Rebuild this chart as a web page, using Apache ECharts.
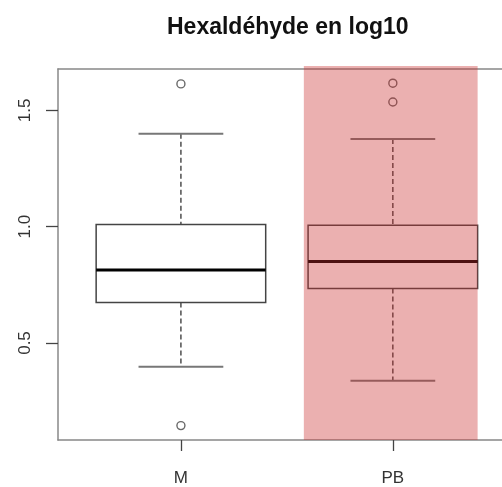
<!DOCTYPE html>
<html>
<head>
<meta charset="utf-8">
<script src="https://cdn.jsdelivr.net/npm/echarts@6/dist/echarts.min.js"></script>
<style>
  html, body { margin: 0; padding: 0; background: #fff; }
  #main { width: 502px; height: 487px; }
</style>
</head>
<body>
<div id="main"></div>
<script>
  // groups and their positions on the x axis
  var categories = ['M', 'PB'];
  var positions = [1, 2];
  // [lower whisker, Q1, median, Q3, upper whisker]
  var boxStats = [
    [0.398, 0.674, 0.814, 1.010, 1.400],
    [0.338, 0.734, 0.850, 1.006, 1.377]
  ];
  // outliers as [position, value]
  var outliers = [
    [1, 1.614], [1, 0.145],
    [2, 1.617], [2, 1.536]
  ];
  var yTicks = [0.5, 1.0, 1.5];
  // shaded band over PB: [x from, x to]
  var highlight = [[1.58, 2.40]];

  var dom = document.getElementById('main');
  var myChart = echarts.init(dom, null, { renderer: 'canvas' });

  var yMin = 0.083, yMax = 1.678;
  var xMin = 0.42, xMax = 2.515; // plot frame runs past the right edge

  var boxData = [];
  for (var i = 0; i < boxStats.length; i++) {
    boxData.push([positions[i]].concat(boxStats[i]));
  }

  function renderBox(params, api) {
    var x = api.value(0);
    var lw = api.value(1), q1 = api.value(2), med = api.value(3), q3 = api.value(4), uw = api.value(5);
    var tl = api.coord([x - 0.4, q3]);
    var br = api.coord([x + 0.4, q1]);
    var m1 = api.coord([x - 0.4, med]), m2 = api.coord([x + 0.4, med]);
    var top = api.coord([x, uw]), bot = api.coord([x, lw]);
    var capL = api.coord([x - 0.2, uw]), capR = api.coord([x + 0.2, uw]);
    var capL2 = api.coord([x - 0.2, lw]), capR2 = api.coord([x + 0.2, lw]);
    var dash = { stroke: '#333', lineWidth: 1.3, lineDash: [5, 3] };
    return {
      type: 'group',
      children: [
        { type: 'line', shape: { x1: top[0], y1: top[1], x2: top[0], y2: tl[1] }, style: dash },
        { type: 'line', shape: { x1: bot[0], y1: br[1], x2: bot[0], y2: bot[1] }, style: dash },
        { type: 'line', shape: { x1: capL[0], y1: capL[1], x2: capR[0], y2: capR[1] }, style: { stroke: '#777', lineWidth: 2 } },
        { type: 'line', shape: { x1: capL2[0], y1: capL2[1], x2: capR2[0], y2: capR2[1] }, style: { stroke: '#777', lineWidth: 2 } },
        {
          type: 'rect',
          shape: { x: tl[0], y: tl[1], width: br[0] - tl[0], height: br[1] - tl[1] },
          style: { fill: '#fff', stroke: '#444', lineWidth: 1.5 }
        },
        { type: 'line', shape: { x1: m1[0], y1: m1[1], x2: m2[0], y2: m2[1] }, style: { stroke: '#000', lineWidth: 3 } }
      ]
    };
  }

  function renderBand(params, api) {
    var a = api.coord([api.value(0), yMax]);
    var b = api.coord([api.value(1), yMin]);
    return {
      type: 'rect',
      shape: { x: a[0], y: a[1] - 3, width: b[0] - a[0], height: b[1] - a[1] + 3 },
      style: { fill: 'rgba(202,47,47,0.38)' }
    };
  }

  var frameLine = { show: true, lineStyle: { color: '#888', width: 1.5 } };

  var option = {
    animation: false,
    title: {
      text: 'Hexaldéhyde en log10',
      left: 162,
      top: 11,
      textStyle: {
        fontFamily: 'Liberation Sans',
        fontSize: 23,
        fontWeight: 'bold',
        color: '#111'
      }
    },
    grid: {
      left: 58,
      right: 0,
      top: 69,
      bottom: 45
    },
    xAxis: [
      {
        type: 'value',
        min: xMin,
        max: xMax,
        axisLine: frameLine,
        splitLine: { show: false },
        axisTick: { show: true, length: 11, customValues: positions, lineStyle: { color: '#444', width: 1.3 } },
        axisLabel: {
          customValues: positions,
          margin: 30,
          fontFamily: 'Liberation Sans',
          fontSize: 17,
          color: '#333',
          formatter: function (v) {
            return categories[positions.indexOf(v)];
          }
        }
      },
      {
        type: 'value',
        position: 'top',
        min: xMin,
        max: xMax,
        axisLine: frameLine,
        splitLine: { show: false },
        axisTick: { show: false },
        axisLabel: { show: false }
      }
    ],
    yAxis: {
      type: 'value',
      min: yMin,
      max: yMax,
      axisLine: frameLine,
      splitLine: { show: false },
      axisTick: { show: true, length: 12, customValues: yTicks, lineStyle: { color: '#444', width: 1.3 } },
      axisLabel: {
        customValues: yTicks,
        rotate: 90,
        align: 'center',
        verticalAlign: 'middle',
        margin: 33,
        fontFamily: 'Liberation Sans',
        fontSize: 17,
        color: '#333',
        formatter: function (v) {
          return v.toFixed(1);
        }
      }
    },
    series: [
      {
        type: 'custom',
        renderItem: renderBox,
        data: boxData,
        z: 2
      },
      {
        type: 'scatter',
        data: outliers,
        symbol: 'circle',
        symbolSize: 8,
        itemStyle: { color: 'rgba(0,0,0,0)', borderColor: '#444', borderWidth: 1.4 },
        z: 3
      },
      {
        type: 'custom',
        renderItem: renderBand,
        data: highlight,
        clip: false,
        z: 10
      }
    ]
  };

  myChart.setOption(option);
</script>
</body>
</html>
